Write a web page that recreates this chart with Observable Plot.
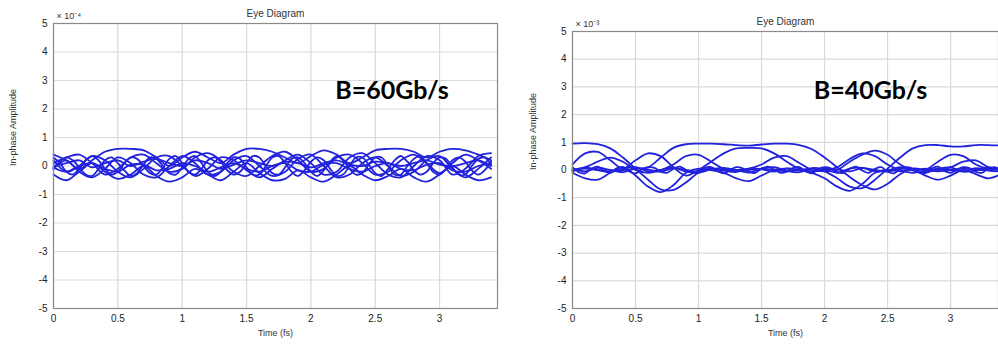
<!DOCTYPE html>
<html><head><meta charset="utf-8">
<script src="https://cdn.jsdelivr.net/npm/d3@7"></script>
<script src="https://cdn.jsdelivr.net/npm/@observablehq/plot@0.6"></script>
<style>
body{margin:0;background:#fff;}
#wrap{position:relative;width:998px;height:349px;overflow:hidden;background:#fff;}
.panel{position:absolute;top:0;}
</style></head>
<body><div id="wrap"></div>
<script>
// ---- data ----
const time = [0,0.1,0.2,0.3,0.4,0.5,0.6,0.7,0.8,0.9,1.0,1.1,1.2,1.3,1.4,1.5,1.6,1.7,1.8,1.9,2.0,2.1,2.2,2.3,2.4,2.5,2.6,2.7,2.8,2.9,3.0,3.1,3.2,3.3,3.4];
const timeFine = [0,0.05,0.1,0.15,0.2,0.25,0.3,0.35,0.4,0.45,0.5,0.55,0.6,0.65,0.7,0.75,0.8,0.85,0.9,0.95,1.0,1.05,1.1,1.15,1.2,1.25,1.3,1.35,1.4,1.45,1.5,1.55,1.6,1.65,1.7,1.75,1.8,1.85,1.9,1.95,2.0,2.05,2.1,2.15,2.2,2.25,2.3,2.35,2.4,2.45,2.5,2.55,2.6,2.65,2.7,2.75,2.8,2.85,2.9,2.95,3.0,3.05,3.1,3.15,3.2,3.25,3.3,3.35,3.4];
const xTicks = [0,0.5,1,1.5,2,2.5,3];
const yTicks = [-5,-4,-3,-2,-1,0,1,2,3,4,5];

// Left panel: B=60Gb/s (amplitude x 1e-4)
const left1 = [0.4,0.2,-0.1,0.2,0.5,0.6,0.6,0.55,0.3,0.0,0.3,0.5,0.3,0.1,0.4,0.6,0.6,0.5,0.3,0.1,0.35,0.55,0.4,0.1,0.3,0.55,0.6,0.6,0.5,0.3,0.5,0.6,0.55,0.4,0.2];
const left2 = [-0.3,-0.5,-0.2,0.1,-0.2,-0.45,-0.3,0.0,-0.35,-0.55,-0.4,-0.1,-0.3,-0.5,-0.2,0.1,-0.25,-0.5,-0.45,-0.15,-0.4,-0.55,-0.3,0.0,-0.3,-0.5,-0.35,-0.1,-0.4,-0.55,-0.3,0.0,-0.3,-0.5,-0.4];
const left3 = [0.1,0.3,0.4,0.1,-0.3,-0.1,0.3,0.4,0.1,-0.2,-0.1,0.3,0.45,0.2,-0.2,-0.35,0.0,0.35,0.5,0.2,-0.2,-0.1,0.3,0.4,0.1,-0.3,-0.2,0.2,0.4,0.1,-0.25,0.1,0.4,0.2,-0.1];
const left4 = [-0.1,0.2,-0.2,-0.4,-0.1,0.3,0.1,-0.3,-0.4,0.0,0.35,0.1,-0.3,-0.2,0.2,0.35,0.0,-0.35,-0.2,0.25,0.4,0.0,-0.4,-0.3,0.1,0.3,0.0,-0.35,-0.2,0.2,0.35,-0.1,-0.4,-0.1,0.3];
const left5 = [0.2,-0.2,0.0,0.35,0.2,-0.2,-0.4,-0.1,0.3,0.35,0.0,-0.35,-0.1,0.3,0.2,-0.15,-0.4,-0.1,0.2,0.4,0.1,-0.3,-0.2,0.3,0.45,0.1,-0.3,-0.4,0.0,0.35,0.2,-0.3,-0.1,0.35,0.45];
const left6 = [0.0,0.1,0.2,-0.05,0.1,0.2,0.0,0.15,0.25,0.1,0.0,0.2,0.1,-0.1,0.05,0.2,0.1,0.0,0.15,0.1,-0.05,0.1,0.2,0.05,0.0,0.15,0.1,0.0,0.1,0.2,0.05,0.0,0.1,0.2,0.0];
const left7 = [-0.05,-0.2,0.0,0.1,-0.1,-0.2,0.05,0.05,-0.15,-0.1,0.1,0.0,-0.2,-0.05,0.1,-0.1,-0.2,0.0,0.1,-0.15,-0.2,0.05,0.1,-0.1,-0.2,0.0,0.1,-0.1,-0.15,0.05,0.1,-0.15,-0.2,0.0,0.1];
const left8 = [0.3,0.1,-0.2,-0.3,-0.1,0.2,0.35,0.2,-0.1,-0.3,-0.2,0.1,0.3,0.25,0.0,-0.25,-0.3,-0.05,0.25,0.35,0.1,-0.2,-0.3,-0.1,0.2,0.3,0.15,-0.15,-0.3,-0.2,0.1,0.35,0.3,0.0,-0.25,-0.3,-0.05,0.25,0.3,0.1,-0.2,-0.35,-0.15,0.15,0.35,0.2,-0.1,-0.3,-0.25,0.05,0.3,0.3,0.0,-0.3,-0.3,0.0,0.25,0.35,0.1,-0.2,-0.3,-0.1,0.2,0.3,0.15,-0.15,-0.3,-0.15,0.15];
const left9 = [-0.1,0.15,0.3,0.2,-0.05,-0.3,-0.35,-0.1,0.2,0.3,0.1,-0.15,-0.35,-0.25,0.05,0.3,0.25,0.0,-0.25,-0.3,-0.05,0.25,0.35,0.1,-0.2,-0.35,-0.2,0.1,0.3,0.25,-0.05,-0.3,-0.3,0.0,0.3,0.35,0.1,-0.2,-0.35,-0.15,0.15,0.3,0.2,-0.1,-0.35,-0.3,0.0,0.3,0.3,0.05,-0.25,-0.35,-0.1,0.2,0.35,0.15,-0.15,-0.3,-0.2,0.1,0.3,0.25,-0.05,-0.3,-0.3,0.0,0.25,0.3,0.05];

// Right panel: B=40Gb/s (amplitude x 1e-3)
const right1 = [0.95,0.97,0.93,0.78,0.45,0.05,-0.35,-0.7,-0.72,-0.45,-0.1,0.05,0.0,-0.05,0.0,0.05,0.0,-0.05,0.0,0.05,-0.05,-0.3,-0.6,-0.65,-0.35,0.05,0.45,0.78,0.9,0.9,0.85,0.85,0.9,0.9,0.88];
const right2 = [0.0,0.05,0.0,-0.05,0.0,0.05,0.1,0.45,0.8,0.93,0.95,0.95,0.93,0.9,0.88,0.92,0.95,0.95,0.9,0.75,0.45,0.1,-0.25,-0.55,-0.7,-0.5,-0.15,0.05,0.0,-0.05,0.0,0.05,0.0,0.0,0.05];
const right3 = [0.2,0.6,0.65,0.35,0.05,0.35,0.6,0.5,0.1,-0.2,0.0,0.3,0.6,0.78,0.8,0.78,0.6,0.3,0.05,-0.05,0.0,0.1,0.4,0.6,0.5,0.2,0.0,-0.1,0.0,0.3,0.55,0.5,0.2,0.05,0.1];
const right4 = [-0.1,-0.3,-0.35,-0.1,0.1,-0.2,-0.6,-0.8,-0.55,-0.1,0.05,0.0,-0.1,-0.3,-0.4,-0.2,0.0,0.05,0.0,-0.1,-0.3,-0.6,-0.75,-0.5,-0.1,0.0,-0.05,0.0,-0.2,-0.35,-0.2,0.0,-0.15,-0.3,-0.15];
const right5 = [0.0,0.1,0.3,0.45,0.3,0.0,-0.1,0.0,0.2,0.5,0.55,0.3,0.05,0.0,0.05,0.2,0.45,0.5,0.25,0.0,-0.05,0.0,0.3,0.55,0.7,0.55,0.2,0.0,0.05,0.0,0.1,0.3,0.35,0.1,0.0];
const right6 = [0.05,-0.05,0.08,0.0,-0.08,0.05,0.02,-0.06,0.07,0.0,-0.05,0.06,-0.02,-0.07,0.05,0.03,-0.06,0.06,0.0,-0.06,0.05,0.02,-0.05,0.07,0.0,-0.06,0.05,0.01,-0.07,0.06,0.0,-0.05,0.07,-0.02,-0.05];
const right7 = [-0.05,0.08,0.0,-0.08,0.06,0.1,-0.04,0.0,0.09,-0.05,-0.1,0.02,0.08,0.0,-0.09,0.05,0.1,-0.03,-0.08,0.07,0.02,-0.1,0.05,0.08,-0.05,-0.02,0.1,0.0,-0.1,0.04,0.09,-0.06,-0.02,0.1,-0.04];
const right8 = [0.1,-0.08,-0.12,0.05,0.12,-0.02,-0.1,0.06,0.1,-0.05,-0.12,0.02,0.1,0.08,-0.06,-0.1,0.04,0.12,0.0,-0.1,-0.06,0.08,0.1,-0.04,-0.12,0.0,0.1,0.06,-0.08,-0.1,0.05,0.12,0.02,-0.1,-0.06,0.08,0.1,-0.05,-0.12,0.03,0.1,0.06,-0.08,-0.1,0.05,0.12,-0.02,-0.1,0.04,0.1,-0.06,-0.12,0.04,0.1,0.05,-0.09,-0.1,0.06,0.12,-0.03,-0.1,0.02,0.1,0.07,-0.07,-0.1,0.05,0.1,-0.02];

const leftSeries = [[time,left1],[time,left2],[time,left3],[time,left4],[time,left5],[time,left6],[time,left7],[timeFine,left8],[timeFine,left9]];
const rightSeries = [[time,right1],[time,right2],[time,right3],[time,right4],[time,right5],[time,right6],[time,right7],[timeFine,right8]];

const titleText = "Eye Diagram";
const xLabel = "Time (fs)";
const yLabel = "In-phase Amplitude";

// ---- drawing ----
const LINE = "#2222dd";
const GRID = "#d9d9d9";

function panel(cfg) {
  const rows = [];
  cfg.series.forEach(([ts, s], k) => s.forEach((v, i) => rows.push({t: ts[i], v, k})));
  return Plot.plot({
    width: cfg.width, height: 349,
    marginLeft: cfg.ml, marginRight: cfg.mr, marginTop: cfg.mt, marginBottom: 41,
    style: {fontFamily: "'Liberation Sans', Arial, sans-serif", fontSize: "10px", color: "#222", background: "transparent"},
    x: {domain: [0, cfg.xmax], ticks: xTicks, tickFormat: d => String(d), tickSize: 0, tickPadding: 6, label: null},
    y: {domain: [-5, 5], ticks: yTicks, tickFormat: d => String(d), tickSize: 0, tickPadding: 6, label: null},
    marks: [
      Plot.ruleX(xTicks, {stroke: GRID, strokeWidth: 1.2}),
      Plot.ruleY(yTicks, {stroke: GRID, strokeWidth: 1.2}),
      Plot.line(rows, {x: "t", y: "v", z: "k", stroke: LINE, strokeWidth: 1.8, curve: "catmull-rom"}),
      Plot.frame({stroke: "#8a8a8a", strokeWidth: 1.2}),
      Plot.text([titleText], {frameAnchor: "top", dy: cfg.titleDy, fontSize: 10, fill: "#333"}),
      Plot.text([cfg.exp], {frameAnchor: "top-left", textAnchor: "start", dx: 3, dy: -11, fontSize: 9, fill: "#333"}),
      Plot.text([xLabel], {frameAnchor: "bottom", dy: 27, fontSize: 9, fill: "#333"}),
      Plot.text([yLabel], {frameAnchor: "left", rotate: -90, dx: cfg.ylabDx, fontSize: 9, fill: "#333"}),
      Plot.text([cfg.note], {x: cfg.noteX, y: cfg.noteY, fontFamily: "Lato, 'Open Sans', sans-serif", fontWeight: "bold", fontSize: 25, fill: "#000", lineAnchor: "middle"})
    ]
  });
}

const wrap = document.getElementById("wrap");
const p1 = panel({series: leftSeries, width: 500, ml: 53, mr: 3, mt: 23, xmax: 3.45, exp: "× 10⁻⁴", note: "B=60Gb/s", noteX: 2.63, noteY: 2.63, titleDy: -14, ylabDx: -40});
p1.classList.add("panel"); p1.style.left = "0px";
const p2 = panel({series: rightSeries, width: 498, ml: 72, mr: 0, mt: 31, xmax: 3.38, exp: "× 10⁻³", note: "B=40Gb/s", noteX: 2.365, noteY: 2.85, titleDy: -14, ylabDx: -39});
p2.classList.add("panel"); p2.style.left = "500px";
wrap.appendChild(p1); wrap.appendChild(p2);
</script></body></html>
